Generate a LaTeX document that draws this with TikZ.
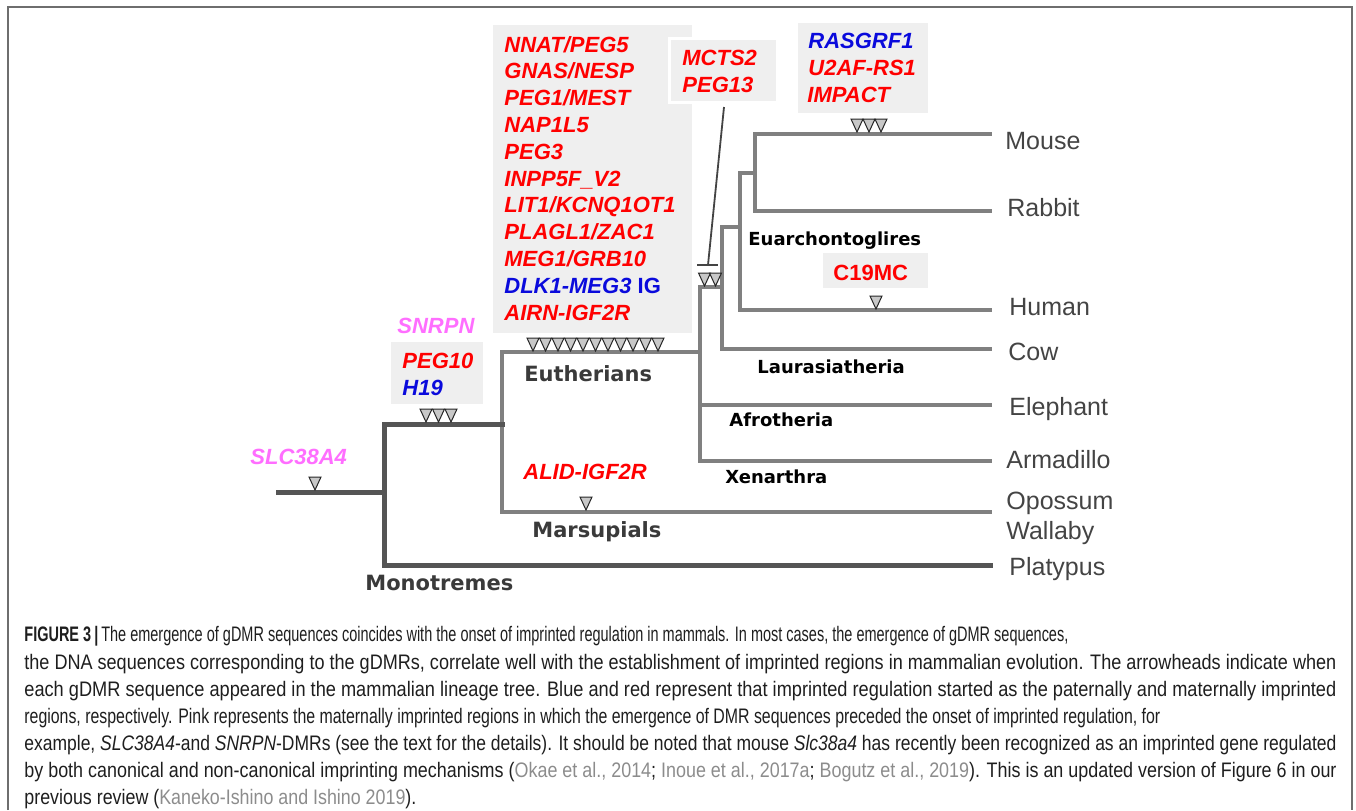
\documentclass[tikz,border=0pt]{standalone}
\usepackage{graphicx}
\usepackage{fontspec}
\setmainfont{Liberation Sans}
\newfontfamily\cladefont{DejaVu Sans}
\newfontfamily\capfont[FakeStretch=0.8]{Liberation Sans}
\definecolor{gred}{HTML}{FF0000}
\definecolor{gblue}{HTML}{0A0ADC}
\definecolor{gpink}{HTML}{FF6EFF}
\definecolor{boxgray}{HTML}{EFEFEF}
\definecolor{darkline}{HTML}{555555}
\definecolor{lightline}{HTML}{808080}
\definecolor{leafcol}{HTML}{444444}
\definecolor{cladegray}{HTML}{3A3A3A}
\definecolor{citecol}{HTML}{8C8C8C}
\definecolor{captext}{HTML}{1E1E1E}
\definecolor{framecol}{HTML}{6E6E6E}
\definecolor{trifill}{HTML}{C8C8C8}
\definecolor{barcol}{HTML}{444444}
\tikzset{
  gene/.style={font=\fontsize{11}{13}\selectfont\bfseries\itshape, inner sep=0pt, anchor=base west},
  geneup/.style={font=\fontsize{11}{13}\selectfont\bfseries, inner sep=0pt, anchor=base west},
  leaf/.style={font=\fontsize{12.5}{15}\selectfont, text=leafcol, inner sep=0pt, anchor=base west},
  cladebig/.style={font=\fontsize{10.5}{12}\selectfont\cladefont\bfseries, text=cladegray, inner sep=0pt, anchor=base west},
  cladesmall/.style={font=\fontsize{9}{11}\selectfont\cladefont\bfseries, text=black, inner sep=0pt, anchor=base west},
  capline/.style={font=\fontsize{10.5}{12}\selectfont\capfont, text=captext, inner sep=0pt, anchor=base west},
  genebox/.style={fill=boxgray, draw=none},
  dk/.style={draw=darkline, line width=2.5pt, line join=miter, line cap=rect},
  lt/.style={draw=lightline, line width=2pt, line join=miter, line cap=rect},
  tri/.pic={\draw[fill=trifill, draw=black!85, line width=0.5pt, line join=miter] (0,0) -- (-6,-13) -- (6,-13) -- cycle;},
}
\newcommand{\citec}[1]{\textcolor{citecol}{#1}}
\newcommand{\capfit}[2]{\resizebox{#1}{\height}{#2}}
\begin{document}
\begin{tikzpicture}[x=0.5pt,y=-0.5pt]
\useasboundingbox (0,0) rectangle (1356,810);
% frame
\draw[framecol, line width=1pt] (8,810) -- (8,7) -- (1352,7) -- (1352,810);
% boxes
\fill[genebox] (493,25) rectangle (692,333);
\draw[genebox, draw=white, line width=1.5pt] (669,38) rectangle (777,102);
\fill[genebox] (798,23) rectangle (928,113);
\fill[genebox] (823,253) rectangle (928,288);
\fill[genebox] (391,342) rectangle (483,404);
% tree coordinates
\coordinate (r0) at (278,492); \coordinate (r1) at (384,492);
\coordinate (mt) at (384,424); \coordinate (mb) at (384,565); \coordinate (plat) at (990,565);
\coordinate (th) at (502,424);
\coordinate (et) at (502,352); \coordinate (mab) at (502,512); \coordinate (opo) at (990,512);
\coordinate (eu1) at (700,352); \coordinate (eut) at (700,287); \coordinate (eub) at (700,461);
\coordinate (xen) at (990,461); \coordinate (afl) at (700,405); \coordinate (afr) at (990,405);
\coordinate (bo0) at (722,287); \coordinate (bot) at (722,227); \coordinate (bob) at (722,349); \coordinate (cow) at (990,349);
\coordinate (ea0) at (740,227); \coordinate (eat) at (740,173); \coordinate (eab) at (740,310); \coordinate (hum) at (990,310);
\coordinate (gl0) at (755,173); \coordinate (glt) at (755,134); \coordinate (glb) at (755,211);
\coordinate (mou) at (990,134); \coordinate (rab) at (990,211);
% tree
\draw[lt] (eu1) -- (et) -- (mab) -- (opo);
\draw[lt] (afl) -- (afr);
\draw[lt] (xen) -- (eub) -- (eut) -- (bo0);
\draw[lt] (ea0) -- (bot) -- (bob) -- (cow);
\draw[lt] (gl0) -- (eat) -- (eab) -- (hum);
\draw[lt] (mou) -- (glt) -- (glb) -- (rab);
\draw[dk] (r0) -- (r1);
\draw[dk] (th) -- (mt) -- (mb) -- (plat);
% T bar
\coordinate (tb0) at (724,107); \coordinate (tb1) at (708,265);
\coordinate (tbl) at (697,265); \coordinate (tbr) at (718,265);
\draw[barcol, line width=0.9pt] (tb0) -- (tb1);
\draw[barcol, line width=0.9pt] (tbl) -- (tbr);
% triangles
\pic at (315,490) {tri};
\foreach \x in {426,438.5,451} \pic at (\x,422) {tri};
\foreach \k in {0,...,10} \pic at (533+12.5*\k,351) {tri};
\foreach \x in {704.5,715.5} \pic at (\x,286) {tri};
\foreach \x in {857,869,881} \pic at (\x,132) {tri};
\pic at (876,309) {tri};
\pic at (586,510) {tri};
% gene texts
\foreach \t [count=\i from 0] in {NNAT/PEG5,GNAS/NESP,PEG1/MEST,NAP1L5,PEG3,INPP5F\_V2,LIT1/KCNQ1OT1,PLAGL1/ZAC1,MEG1/GRB10}
  \node[gene, text=gred] (g\i) at (504,52+26.8*\i) {\t};
\node[gene, text=gblue] (g9) at (504,293.2) {DLK1-MEG3 {\upshape IG}};
\node[gene, text=gred] (g10) at (504,320) {AIRN-IGF2R};
\node[gene, text=gred] (mcts) at (682,65) {MCTS2};
\node[gene, text=gred] (peg13) at (682,92) {PEG13};
\node[gene, text=gblue] (ras) at (808,48) {RASGRF1};
\node[gene, text=gred] (u2af) at (808,75) {U2AF-RS1};
\node[gene, text=gred] (imp) at (807,102) {IMPACT};
\node[geneup, text=gred] (c19) at (833,280) {C19MC};
\node[gene, text=gpink] (snrpn) at (397,333) {SNRPN};
\node[gene, text=gred] (peg10) at (402,368) {PEG10};
\node[gene, text=gblue] (h19) at (402,395) {H19};
\node[gene, text=gpink] (slc) at (250,464) {SLC38A4};
\node[gene, text=gred] (alid) at (523,479) {ALID-IGF2R};
% clade labels
\node[cladebig] (monol) at (365,590) {Monotremes};
\node[cladebig] (eutl) at (524,381) {Eutherians};
\node[cladebig] (marl) at (532,537) {Marsupials};
\node[cladesmall] (laul) at (757,373) {Laurasiatheria};
\node[cladesmall] (afrl) at (729,426) {Afrotheria};
\node[cladesmall] (xenl) at (725,483) {Xenarthra};
\node[cladesmall] (eual) at (748,245) {Euarchontoglires};
% leaves
\node[leaf] (mouse) at (1005,149) {Mouse};
\node[leaf] (rabbit) at (1007,216) {Rabbit};
\node[leaf] (human) at (1009,315) {Human};
\node[leaf] (cowl) at (1008,360) {Cow};
\node[leaf] (eleph) at (1009,415) {Elephant};
\node[leaf] (arma) at (1006,468.5) {Armadillo};
\node[leaf] (opos) at (1006,509) {Opossum};
\node[leaf] (wall) at (1006,539) {Wallaby};
\node[leaf] (platl) at (1009,575) {Platypus};
% caption
\node[capline] (cap1) at (24,641) {\capfit{522pt}{\textbf{FIGURE 3\,|}\,The emergence of gDMR sequences coincides with the onset of imprinted regulation in mammals. In most cases, the emergence of gDMR sequences,}};
\node[capline] (cap2) at (24,669) {\capfit{656pt}{the DNA sequences corresponding to the gDMRs, correlate well with the establishment of imprinted regions in mammalian evolution. The arrowheads indicate when}};
\node[capline] (cap3) at (24,696) {\capfit{656pt}{each gDMR sequence appeared in the mammalian lineage tree. Blue and red represent that imprinted regulation started as the paternally and maternally imprinted}};
\node[capline] (cap4) at (24,723) {\capfit{568pt}{regions, respectively. Pink represents the maternally imprinted regions in which the emergence of DMR sequences preceded the onset of imprinted regulation, for}};
\node[capline] (cap5) at (24,750) {\capfit{656pt}{example, \textit{SLC38A4}-and \textit{SNRPN}-DMRs (see the text for the details). It should be noted that mouse \textit{Slc38a4} has recently been recognized as an imprinted gene regulated}};
\node[capline] (cap6) at (24,777) {\capfit{656pt}{by both canonical and non-canonical imprinting mechanisms (\citec{Okae et al., 2014}; \citec{Inoue et al., 2017a}; \citec{Bogutz et al., 2019}). This is an updated version of Figure 6 in our}};
\node[capline] (cap7) at (24,804) {\capfit{196pt}{previous review (\citec{Kaneko-Ishino and Ishino 2019}).}};
\end{tikzpicture}
\end{document}
